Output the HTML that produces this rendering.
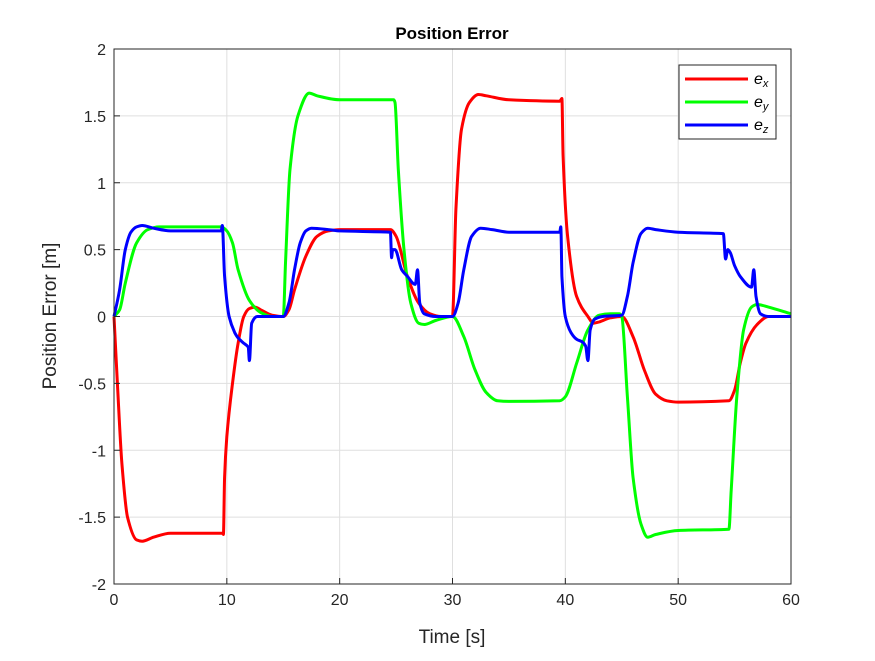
<!DOCTYPE html>
<html><head><meta charset="utf-8"><style>
body{margin:0;background:#fff}
svg text{font-family:"Liberation Sans",sans-serif}
</style></head><body>
<svg id="chart" width="875" height="656" viewBox="0 0 875 656" xmlns="http://www.w3.org/2000/svg">
<rect width="875" height="656" fill="#fff"/>
<g id="grid"></g>
<g id="series"></g>
<rect x="114" y="49" width="677" height="535" fill="none" stroke="#262626" stroke-width="1"/>
<g id="ticks"></g>
<text x="452" y="39" text-anchor="middle" font-size="17" font-weight="bold" fill="#000">Position Error</text>
<text x="452" y="643" text-anchor="middle" font-size="19" fill="#262626">Time [s]</text>
<text transform="translate(56,316) rotate(-90)" text-anchor="middle" font-size="19" fill="#262626">Position Error [m]</text>
<g>
<rect x="679" y="65" width="97" height="74" fill="#fff" stroke="#262626" stroke-width="1"/>
<g><line x1="685" y1="79" x2="748" y2="79" stroke="#ff0000" stroke-width="3"/><text x="754" y="84" font-size="16" font-family="Liberation Serif" font-style="italic">e<tspan font-size="11" dy="3">x</tspan></text></g>
<g><line x1="685" y1="102" x2="748" y2="102" stroke="#00ff00" stroke-width="3"/><text x="754" y="107" font-size="16" font-family="Liberation Serif" font-style="italic">e<tspan font-size="11" dy="3">y</tspan></text></g>
<g><line x1="685" y1="125" x2="748" y2="125" stroke="#0000ff" stroke-width="3"/><text x="754" y="130" font-size="16" font-family="Liberation Serif" font-style="italic">e<tspan font-size="11" dy="3">z</tspan></text></g>
</g>
</svg>
<script>
const xTicks=[0,10,20,30,40,50,60];
const yTicks=[-2,-1.5,-1,-0.5,0,0.5,1,1.5,2];
const yTickLabels=["-2","-1.5","-1","-0.5","0","0.5","1","1.5","2"];
const exT=[0,0.3,0.7,1.2,2,2.5,3.5,5,9.6,9.7,9.8,10,10.5,11,11.5,12,12.5,13,14,15,15.5,16,17,18,19,20,24.5,25,26,27,28,29,30,30.3,30.8,31.5,32.3,33,35,39.5,39.7,39.8,40.2,41,42,42.5,43,44,45,46,47,48,49,50,54.5,55,55.5,56,57,58,60];
const exV=[0,-0.5,-1.1,-1.5,-1.67,-1.68,-1.65,-1.62,-1.62,-1.63,-1.2,-0.9,-0.5,-0.2,0,0.06,0.07,0.05,0.01,0,0.05,0.2,0.45,0.6,0.64,0.65,0.65,0.6,0.3,0.1,0.02,0,0,0.8,1.4,1.6,1.66,1.65,1.62,1.61,1.63,1.2,0.6,0.15,0,-0.05,-0.04,-0.01,0,-0.15,-0.4,-0.58,-0.63,-0.64,-0.63,-0.55,-0.35,-0.2,-0.06,0,0];
const eyT=[0,0.5,1,2,3,4,9.5,10,10.5,11,12,13,14,15,15.2,15.6,16.3,17.3,18,20,24.8,24.9,25.2,25.7,26.3,27,27.5,28.5,30,31,32,33,34,35,39.5,40,41,42,43,44,44.8,45,45.5,46,46.7,47.3,48,50,54.5,54.7,55.2,55.8,56.5,57,58,60];
const eyV=[0,0.05,0.25,0.55,0.65,0.67,0.67,0.64,0.55,0.35,0.12,0.03,0,0,0.4,1.1,1.5,1.67,1.65,1.62,1.62,1.6,1.1,0.5,0.1,-0.05,-0.06,-0.03,0,-0.15,-0.4,-0.57,-0.63,-0.635,-0.63,-0.6,-0.35,-0.1,0.01,0.02,0.02,0,-0.6,-1.2,-1.55,-1.65,-1.63,-1.6,-1.59,-1.3,-0.6,-0.1,0.07,0.09,0.07,0.02];
const ezT=[0,0.5,1,1.5,2,2.5,3.5,5,9.5,9.6,9.8,10.2,10.7,11,11.5,11.9,12,12.2,12.7,15,15.5,16,16.5,17,17.5,19,20,24.5,24.6,24.7,24.9,25.5,26,26.7,26.9,27.1,27.5,28.5,30,30.5,31,31.7,32.5,33.5,35,39.5,39.6,39.7,40,40.5,41,41.5,41.8,42,42.2,42.6,43.3,45,45.5,46,46.7,47.3,48,50,54,54.2,54.4,54.6,55,55.5,56.5,56.7,56.9,57.3,58,60];
const ezV=[0,0.2,0.5,0.63,0.67,0.68,0.66,0.64,0.64,0.68,0.3,0,-0.12,-0.16,-0.2,-0.23,-0.33,-0.05,0,0,0.1,0.35,0.55,0.64,0.66,0.65,0.64,0.63,0.44,0.5,0.5,0.35,0.3,0.24,0.35,0.1,0.02,0,0,0.1,0.35,0.6,0.66,0.65,0.63,0.63,0.67,0.3,0,-0.12,-0.17,-0.19,-0.22,-0.33,-0.1,-0.02,0,0.01,0.15,0.4,0.62,0.66,0.65,0.63,0.62,0.43,0.5,0.48,0.38,0.3,0.22,0.35,0.15,0.02,0,0];
const X0=114,X1=791,Y0=584,Y1=49;
function sx(t){return X0+(t-0)/(60-0)*(X1-X0);}
function sy(v){return Y0-(v+2)/4*(Y0-Y1);}
const NS="http://www.w3.org/2000/svg";
const grid=document.getElementById('grid'),ticks=document.getElementById('ticks'),ser=document.getElementById('series');
xTicks.forEach(t=>{
 const g=document.createElementNS(NS,'line');
 
 
 g.setAttribute('x1',sx(t));g.setAttribute('x2',sx(t));g.setAttribute('y1',Y1);g.setAttribute('y2',Y0);
 g.setAttribute('stroke','#dfdfdf');grid.appendChild(g);
 const k=document.createElementNS(NS,'line');
 
 
 k.setAttribute('x1',sx(t));k.setAttribute('x2',sx(t));k.setAttribute('y1',Y0);k.setAttribute('y2',Y0-6);
 k.setAttribute('stroke','#262626');ticks.appendChild(k);
 const l=document.createElementNS(NS,'text');
 
 
 l.setAttribute('x',sx(t));l.setAttribute('y',Y0+21);l.setAttribute('text-anchor','middle');l.setAttribute('font-size','16');l.setAttribute('fill','#262626');
 l.textContent=t;ticks.appendChild(l);
});
yTicks.forEach((v,i)=>{
 const g=document.createElementNS(NS,'line');
 
 
 g.setAttribute('x1',X0);g.setAttribute('x2',X1);g.setAttribute('y1',sy(v));g.setAttribute('y2',sy(v));
 g.setAttribute('stroke','#dfdfdf');grid.appendChild(g);
 const k=document.createElementNS(NS,'line');
 
 
 k.setAttribute('x1',X0);k.setAttribute('x2',X0+6);k.setAttribute('y1',sy(v));k.setAttribute('y2',sy(v));
 k.setAttribute('stroke','#262626');ticks.appendChild(k);
 const l=document.createElementNS(NS,'text');
 
 
 l.setAttribute('x',X0-8);l.setAttribute('y',sy(v)+6);l.setAttribute('text-anchor','end');l.setAttribute('font-size','16');l.setAttribute('fill','#262626');
 l.textContent=yTickLabels[i];ticks.appendChild(l);
});
function monoPath(T,V){
 const xs=T.map(sx),ys=V.map(sy),n=xs.length;
 const d=[],m=new Array(n);
 for(let i=0;i<n-1;i++)d.push((ys[i+1]-ys[i])/(xs[i+1]-xs[i]));
 m[0]=d[0];m[n-1]=d[n-2];
 for(let i=1;i<n-1;i++){m[i]=(d[i-1]*d[i]<=0)?0:(2/(1/d[i-1]+1/d[i]));}
 let s='M'+xs[0].toFixed(1)+','+ys[0].toFixed(1);
 for(let i=0;i<n-1;i++){
  const h=(xs[i+1]-xs[i])/3;
  s+=' C'+(xs[i]+h).toFixed(1)+','+(ys[i]+m[i]*h).toFixed(1)+' '+(xs[i+1]-h).toFixed(1)+','+(ys[i+1]-m[i+1]*h).toFixed(1)+' '+xs[i+1].toFixed(1)+','+ys[i+1].toFixed(1);
 }
 return s;
}
function line(T,V,color,name){
 const p=document.createElementNS(NS,'path');
 
 
 p.setAttribute('d',monoPath(T,V));
 p.setAttribute('fill','none');p.setAttribute('stroke',color);p.setAttribute('stroke-width','3');p.setAttribute('stroke-linejoin','round');
 ser.appendChild(p);
}
line(exT,exV,'#ff0000','series-ex');
line(eyT,eyV,'#00ff00','series-ey');
line(ezT,ezV,'#0000ff','series-ez');
</script>
</body></html>
